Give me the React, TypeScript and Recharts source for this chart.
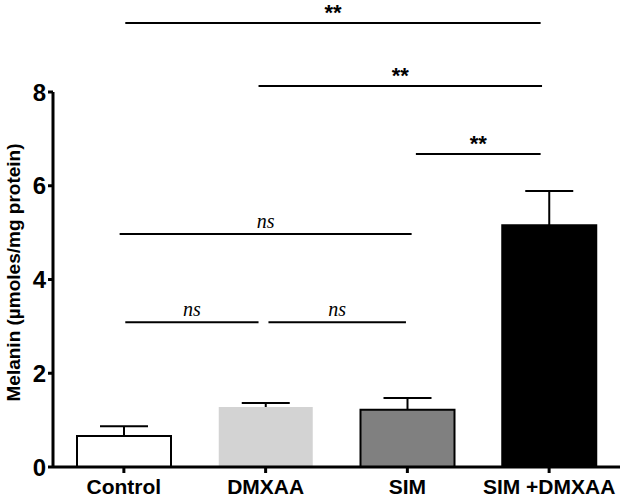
import { Bar, BarChart, Cell, ReferenceLine, XAxis, YAxis } from 'recharts'

const groups = ['Control', 'DMXAA', 'SIM', 'SIM +DMXAA']
const melanin = [0.66, 1.28, 1.22, 5.16]
const sem = [0.21, 0.085, 0.25, 0.73]
const yTicks = [0, 2, 4, 6, 8]

// significance brackets: ends in category units (0..4 along the x axis), height in data units
const bracketFrom = [0.51, 1.45, 2.56, 0.47, 0.51, 1.52]
const bracketTo = [3.44, 3.45, 3.44, 2.53, 1.45, 2.49]
const bracketY = [9.47, 8.13, 6.68, 4.97, 3.09, 3.09]
const bracketLabel = ['**', '**', '**', 'ns', 'ns', 'ns']

const barFills = ['#ffffff', '#d3d3d3', '#808080', '#000000']
const barStrokes = ['#000000', 'none', '#000000', '#000000']

// slot = centre of each category on the hidden numeric axis
const data = groups.map((name, i) => ({ name, slot: i + 0.5, mean: melanin[i], err: sem[i] }))

const sans = '"Liberation Sans", Arial, sans-serif'
const serif = '"Liberation Serif", "Times New Roman", serif'

function ErrorCap(props: any) {
  const { x, y, width, height } = props
  const cx = x + width / 2
  return (
    <g stroke="#000" strokeWidth={2}>
      <line x1={cx} y1={y + height} x2={cx} y2={y} />
      <line x1={cx - 24} y1={y} x2={cx + 24} y2={y} />
    </g>
  )
}

function bracketText(label: string) {
  const isNs = label === 'ns'
  return (props: any) => {
    const vb = props.viewBox
    return (
      <text
        x={vb.x + vb.width / 2}
        y={vb.y - (isNs ? 6 : 3)}
        textAnchor="middle"
        fill="#000"
        fontFamily={isNs ? serif : sans}
        fontStyle={isNs ? 'italic' : 'normal'}
        fontWeight={isNs ? 'normal' : 'bold'}
        fontSize={isNs ? 20 : 22}
      >
        {label}
      </text>
    )
  }
}

function YLabel(props: any) {
  const vb = props.viewBox
  return (
    <text
      transform={`translate(${vb.x + 20}, ${vb.y + vb.height / 2 - 7}) rotate(-90)`}
      textAnchor="middle"
      fill="#000"
      fontFamily={sans}
      fontWeight="bold"
      fontSize={19}
    >
      Melanin (µmoles/mg protein)
    </text>
  )
}

export default function App() {
  return (
    <div style={{ position: 'absolute', left: 0, top: 0, background: '#fff' }}>
      <BarChart
        width={625}
        height={498}
        data={data}
        margin={{ top: 92, right: 5, left: 0, bottom: 0 }}
      >
        <XAxis
          xAxisId="cat"
          dataKey="name"
          height={31}
          axisLine={{ stroke: '#000', strokeWidth: 3 }}
          tickLine={{ stroke: '#000', strokeWidth: 3 }}
          tickSize={6}
          tickMargin={6}
          interval={0}
          tick={{ fill: '#000', fontSize: 21, fontWeight: 'bold', fontFamily: sans }}
        />
        <XAxis
          xAxisId="num"
          dataKey="slot"
          type="number"
          domain={[0, 4]}
          allowDataOverflow
          hide
        />
        <YAxis
          width={53}
          domain={[0, 8]}
          ticks={yTicks}
          interval={0}
          axisLine={{ stroke: '#000', strokeWidth: 3 }}
          tickLine={{ stroke: '#000', strokeWidth: 3 }}
          tickSize={5}
          tickMargin={2}
          tick={{ fill: '#000', fontSize: 24, fontWeight: 'bold', fontFamily: sans }}
          label={YLabel}
        />
        <Bar xAxisId="cat" dataKey="mean" stackId="a" barSize={94} isAnimationActive={false}>
          {data.map((d, i) => (
            <Cell key={d.name} fill={barFills[i]} stroke={barStrokes[i]} strokeWidth={2} />
          ))}
        </Bar>
        <Bar
          xAxisId="cat"
          dataKey="err"
          stackId="a"
          barSize={94}
          shape={ErrorCap}
          isAnimationActive={false}
        />
        {bracketY.map((y, i) => (
          <ReferenceLine
            key={i}
            xAxisId="num"
            segment={[
              { x: bracketFrom[i], y },
              { x: bracketTo[i], y },
            ]}
            stroke="#000"
            strokeWidth={2}
            ifOverflow="visible"
            label={bracketText(bracketLabel[i])}
          />
        ))}
      </BarChart>
    </div>
  )
}
